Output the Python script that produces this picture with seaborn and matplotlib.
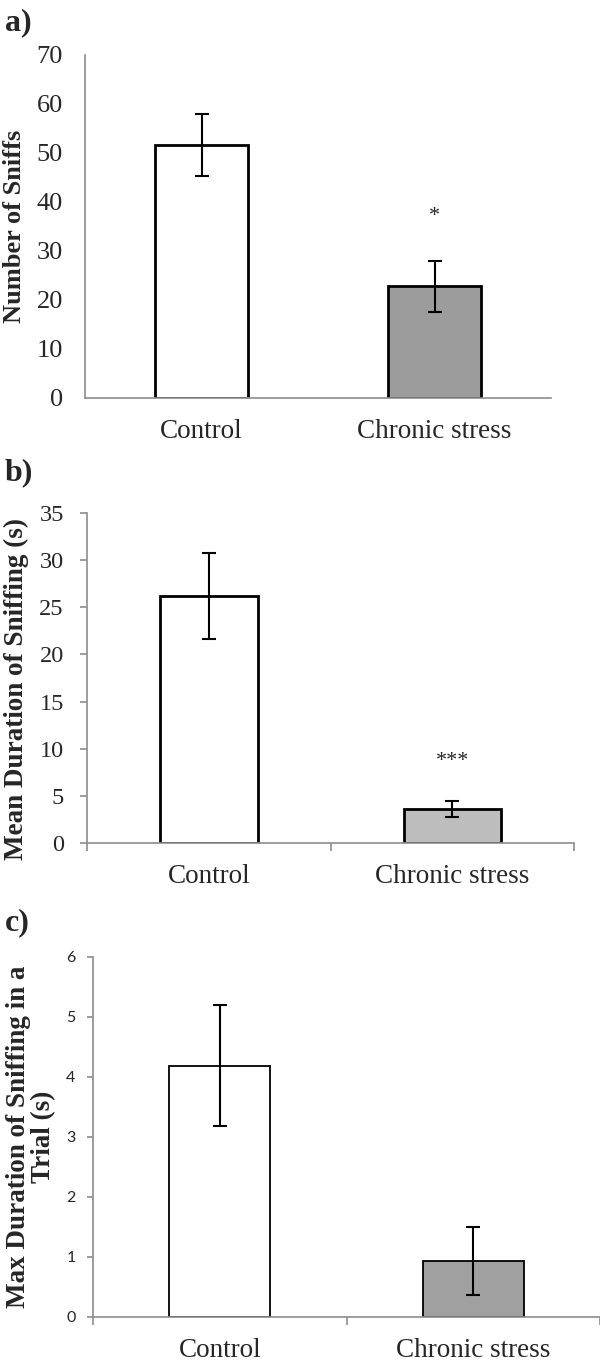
#!/usr/bin/env python3
"""
Sniffing behaviour, control vs chronic stress: three stacked bar panels.
"""

import numpy as np
import matplotlib
matplotlib.use("Agg")
import matplotlib.pyplot as plt
import seaborn as sns

groups = ["Control", "Chronic stress"]

# a) number of sniffs
sniffs_mean = [51.6, 22.8]
sniffs_err = [6.3, 5.2]

# b) mean duration of sniffing (s)
mean_dur = [26.2, 3.6]
mean_dur_err = [4.6, 0.87]

# c) max duration of sniffing in a trial (s)
max_dur = [4.19, 0.93]
max_dur_err = [1.01, 0.57]

sig_a = ["", "*"]
sig_b = ["", "***"]
sig_a_y = [0, 37]
sig_b_y = [0, 8.6]

sns.set_style("white")
plt.rcParams["font.family"] = ["Liberation Serif", "DejaVu Serif"]

fig = plt.figure(figsize=(6, 13.63), dpi=100)

AXIS_GREY = "#8c8c8c"


def draw_panel(ax, means, errs, bar_colors, edge_lw, cap):
    sns.barplot(x=groups, y=means, hue=groups, palette=bar_colors, legend=False,
                width=0.4, edgecolor="black", linewidth=edge_lw, ax=ax)
    ax.errorbar(np.arange(len(groups)), means, yerr=errs, fmt="none",
                ecolor="black", elinewidth=1.5, capsize=cap, capthick=1.5)
    ax.set_xlim(-0.5, 1.5)
    for side in ["top", "right"]:
        ax.spines[side].set_visible(False)
    for side in ["left", "bottom"]:
        ax.spines[side].set_color(AXIS_GREY)
        ax.spines[side].set_linewidth(1.2)
    ax.set_xlabel("")


# ---- panel a
ax_a = fig.add_axes([0.1417, 0.708, 0.7767, 0.2517])
draw_panel(ax_a, sniffs_mean, sniffs_err, ["white", "#9c9c9c"], 2.0, 5)
ax_a.set_ylim(0, 70)
ax_a.set_yticks(range(0, 71, 10))
ax_a.tick_params(axis="y", length=0, labelsize=19, pad=16)
ax_a.tick_params(axis="x", length=0, labelsize=19.5, pad=15)
ax_a.set_ylabel("Number of Sniffs", fontsize=19, weight="bold")
ax_a.yaxis.set_label_coords(-0.127, 0.5)
for i, s in enumerate(sig_a):
    if s:
        ax_a.text(i, sig_a_y[i], s, ha="center", va="center", fontsize=16)
fig.text(0.008, 0.994, "a)", fontsize=23, weight="bold", va="top")

# ---- panel b
ax_b = fig.add_axes([0.1458, 0.3815, 0.8109, 0.2421])
draw_panel(ax_b, mean_dur, mean_dur_err, ["white", "#bdbdbd"], 2.0, 5)
ax_b.set_ylim(0, 35)
ax_b.set_yticks(range(0, 36, 5))
ax_b.set_xticks([-0.5, 0.5, 1.5], minor=True)
ax_b.tick_params(axis="y", length=5, width=1.2, color=AXIS_GREY,
                 labelsize=17.5, pad=12, direction="out", left=True)
ax_b.tick_params(axis="x", which="major", length=0, labelsize=19.5, pad=15)
ax_b.tick_params(axis="x", which="minor", length=6, width=1.2,
                 color=AXIS_GREY, direction="out", bottom=True)
ax_b.set_ylabel("Mean Duration of Sniffing (s)", fontsize=19.5, weight="bold")
ax_b.yaxis.set_label_coords(-0.121, 0.467)
for i, s in enumerate(sig_b):
    if s:
        ax_b.text(i, sig_b_y[i], s, ha="center", va="center", fontsize=16)
fig.text(0.008, 0.664, "b)", fontsize=23, weight="bold", va="top")

# ---- panel c
ax_c = fig.add_axes([0.155, 0.0338, 0.845, 0.2641])
draw_panel(ax_c, max_dur, max_dur_err, ["white", "#a0a0a0"], 1.3, 5)
ax_c.set_ylim(0, 6)
ax_c.set_yticks(range(0, 7))
ax_c.set_xticks([-0.5, 0.5, 1.5], minor=True)
ax_c.tick_params(axis="y", length=4.5, width=1.2, color=AXIS_GREY,
                 labelsize=11.5, pad=8, direction="out", left=True)
for lab in ax_c.get_yticklabels():
    lab.set_family(["Lato", "DejaVu Sans"])
ax_c.tick_params(axis="x", which="major", length=0, labelsize=19.5, pad=15)
ax_c.tick_params(axis="x", which="minor", length=6, width=1.2,
                 color=AXIS_GREY, direction="out", bottom=True)
ax_c.set_ylabel("Max Duration of Sniffing in a\nTrial (s)", fontsize=19.5,
                weight="bold", linespacing=1.0)
ax_c.yaxis.set_label_coords(-0.073, 0.5)
fig.text(0.008, 0.334, "c)", fontsize=23, weight="bold", va="top")

plt.savefig("out.png", dpi=100)
plt.close()
